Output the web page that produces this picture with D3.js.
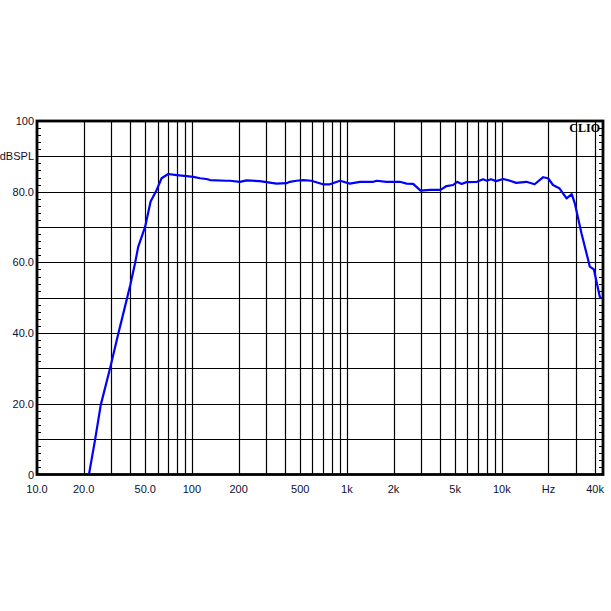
<!DOCTYPE html>
<html>
<head>
<meta charset="utf-8">
<script src="https://cdn.jsdelivr.net/npm/d3@7"></script>
<style>
  body { margin: 0; background: #fff; }
  svg text { font-family: Arial, "Liberation Sans", sans-serif; font-size: 11px; fill: #101030; }
</style>
</head>
<body>
<script>
// response curve
var freqs = [21.7, 23.7, 25.8, 29.6, 33.5, 37.9, 40, 42.9, 45, 49.9, 54.1, 59.2, 63.7, 70.3, 79.6, 92.5,
             102, 113, 124, 131, 167, 176, 204, 225, 274, 352, 408, 428, 473, 523, 590, 701, 776, 904,
             1045, 1213, 1483, 1557, 1806, 2198, 2432, 2680, 2989, 3440, 4022, 4395, 4853, 5147, 5500,
             5916, 6900, 7570, 8000, 8500, 9200, 10200, 11300, 12400, 14400, 16300, 18500, 19900, 21400,
             23500, 26200, 28300, 29600, 32700, 37000, 39300, 42900, 44000];
var spl = [0.3, 9.8, 19.7, 30.0, 39.9, 49.4, 53.6, 59.7, 64.4, 70.1, 77.2, 80.5, 83.8, 85.0, 84.7, 84.4,
           84.2, 83.8, 83.6, 83.3, 83.1, 83.1, 82.8, 83.2, 83.0, 82.3, 82.4, 82.8, 83.1, 83.3, 83.1, 82.1, 82.1, 83.1,
           82.3, 82.8, 82.8, 83.1, 82.8, 82.8, 82.3, 82.2, 80.3, 80.5, 80.5, 81.6, 81.9, 82.8, 82.2,
           82.7, 82.8, 83.5, 83.1, 83.5, 83.0, 83.6, 83.1, 82.5, 82.8, 82.1, 84.1, 83.8, 81.9,
           81.0, 78.1, 79.3, 76.7, 68.2, 58.8, 58.0, 50.3, 49.8];

var xTickVals = [10, 20, 50, 100, 200, 500, 1000, 2000, 5000, 10000, 20000, 40000];
var xTickText = ["10.0", "20.0", "50.0", "100", "200", "500", "1k", "2k", "5k", "10k", "Hz", "40k"];
var yTickVals = [0, 20, 40, 60, 80, 90, 100];
var yTickText = ["0", "20.0", "40.0", "60.0", "80.0", "dBSPL", "100"];

var W = 611, H = 611;
var pL = 37, pR = 603, pT = 121, pB = 474.5;

var svg = d3.select("body").append("svg")
  .attr("width", W)
  .attr("height", H);

var x = d3.scaleLog().domain([10, 45000]).range([pL, pR]);
var y = d3.scaleLinear().domain([0, 100]).range([pB, pT]);

// vertical grid: 20..90, 100..900, ... up to 40k
var vGrid = [];
[10, 100, 1000, 10000].forEach(function(dec) {
  for (var k = 1; k <= 9; k++) {
    var f = dec * k;
    if (f > 10 && f <= 40000) vGrid.push(f);
  }
});

svg.append("g").selectAll("line")
  .data(vGrid)
  .enter().append("line")
  .attr("x1", function(d) { return Math.round(x(d)) + 0.5; })
  .attr("x2", function(d) { return Math.round(x(d)) + 0.5; })
  .attr("y1", pT)
  .attr("y2", pB)
  .attr("stroke", "#000")
  .attr("stroke-width", 1.2);

svg.append("g").selectAll("line")
  .data(d3.range(10, 100, 10))
  .enter().append("line")
  .attr("x1", pL)
  .attr("x2", pR)
  .attr("y1", function(d) { return Math.round(y(d)) + 0.5; })
  .attr("y2", function(d) { return Math.round(y(d)) + 0.5; })
  .attr("stroke", "#000")
  .attr("stroke-width", 1.2);

// minor ticks every 2 dB, inside on both sides
var minor = d3.range(2, 100, 2).filter(function(d) { return d % 10 !== 0; });
svg.append("g").selectAll("line")
  .data(minor)
  .enter().append("line")
  .attr("x1", pL).attr("x2", pL + 4)
  .attr("y1", function(d) { return Math.round(y(d)) + 0.5; })
  .attr("y2", function(d) { return Math.round(y(d)) + 0.5; })
  .attr("stroke", "#000");
svg.append("g").selectAll("line")
  .data(minor)
  .enter().append("line")
  .attr("x1", pR - 4).attr("x2", pR)
  .attr("y1", function(d) { return Math.round(y(d)) + 0.5; })
  .attr("y2", function(d) { return Math.round(y(d)) + 0.5; })
  .attr("stroke", "#000");

// curve
var line = d3.line()
  .x(function(d) { return x(d[0]); })
  .y(function(d) { return y(d[1]); });

svg.append("path")
  .datum(d3.zip(freqs, spl))
  .attr("d", line)
  .attr("fill", "none")
  .attr("stroke", "#0000ff")
  .attr("stroke-width", 2.2)
  .attr("stroke-linejoin", "round");

// frame
svg.append("rect")
  .attr("x", pL)
  .attr("y", pT)
  .attr("width", pR - pL)
  .attr("height", pB - pT)
  .attr("fill", "none")
  .attr("stroke", "#000")
  .attr("stroke-width", 2.8);

// labels
svg.append("g").selectAll("text")
  .data(xTickVals)
  .enter().append("text")
  .attr("x", function(d) { return x(d); })
  .attr("y", 493)
  .attr("text-anchor", "middle")
  .text(function(d, i) { return xTickText[i]; });

svg.append("g").selectAll("text")
  .data(yTickVals)
  .enter().append("text")
  .attr("x", 34)
  .attr("y", function(d) { return y(d) + 4; })
  .attr("text-anchor", "end")
  .text(function(d, i) { return yTickText[i]; });

svg.append("text")
  .attr("x", 600)
  .attr("y", 132)
  .attr("text-anchor", "end")
  .style("font-family", "'Liberation Serif', 'Times New Roman', serif")
  .style("font-weight", "bold")
  .style("font-size", "12px")
  .style("fill", "#000")
  .text("CLIO");
</script>
</body>
</html>
